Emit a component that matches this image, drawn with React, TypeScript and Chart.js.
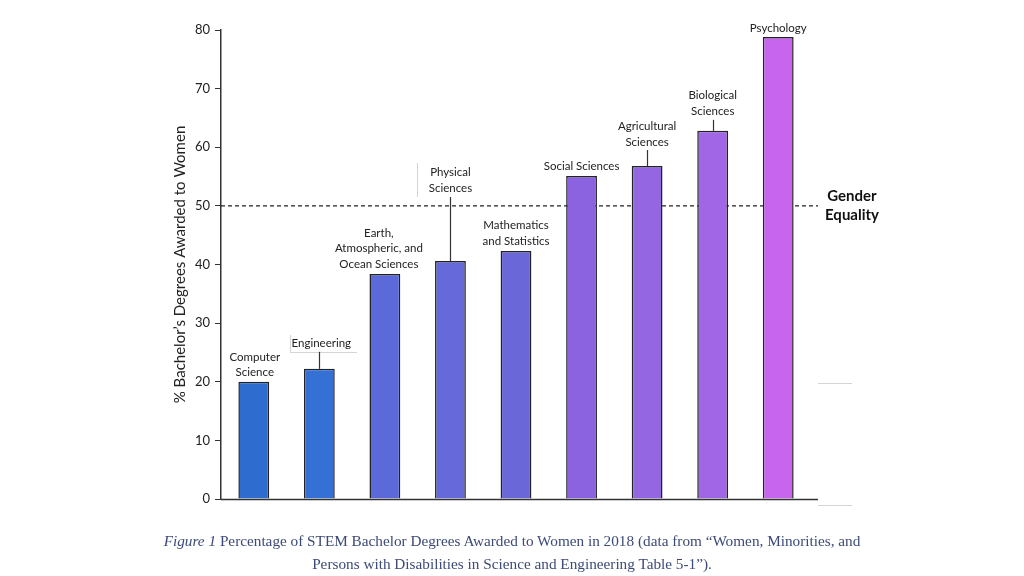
import React, { useEffect, useRef } from "react";
import { Chart, registerables } from "chart.js";

Chart.register(...registerables);

const categories = [
  "Computer Science",
  "Engineering",
  "Earth, Atmospheric, and Ocean Sciences",
  "Physical Sciences",
  "Mathematics and Statistics",
  "Social Sciences",
  "Agricultural Sciences",
  "Biological Sciences",
  "Psychology",
];
const values = [20.0, 22.2, 38.4, 40.6, 42.3, 55.1, 56.8, 62.8, 78.8];
const barColors = [
  "#2f6ccf",
  "#3570d5",
  "#5b6ad8",
  "#6669da",
  "#6a68d9",
  "#8b63e0",
  "#9466e2",
  "#a066e6",
  "#c765ee",
];
const labelLines = [
  ["Computer", "Science"],
  ["Engineering"],
  ["Earth,", "Atmospheric, and", "Ocean Sciences"],
  ["Physical", "Sciences"],
  ["Mathematics", "and Statistics"],
  ["Social Sciences"],
  ["Agricultural", "Sciences"],
  ["Biological", "Sciences"],
  ["Psychology"],
];
const yTicks = [0, 10, 20, 30, 40, 50, 60, 70, 80];
const equalityValue = 50;
const yTitle = "% Bachelor\u2019s Degrees Awarded to Women";
const equalityLabel = ["Gender", "Equality"];

// label layout (pixels): gap from bar top to last line, leader length, x shift
const labelGap = [9, 26, 10, 73, 10, 10, 24, 20, 9];
const leaderLen = [0, 17, 0, 64, 0, 0, 16, 11, 0];
const labelDx = [1, 2, -6, 0, 0, 0, 0, 0, 0];

const annotPlugin = {
  id: "annot",
  beforeDatasetsDraw(chart: any) {
    const { ctx, chartArea, scales } = chart;
    const y = scales.y.getPixelForValue(equalityValue);
    ctx.save();
    ctx.strokeStyle = "#222";
    ctx.lineWidth = 1.2;
    ctx.setLineDash([4, 3]);
    ctx.beginPath();
    ctx.moveTo(chartArea.left, y);
    ctx.lineTo(818, y);
    ctx.stroke();
    ctx.restore();
  },
  afterDatasetsDraw(chart: any) {
    const { ctx, chartArea, scales } = chart;
    const xs = scales.x;
    const ys = scales.y;
    ctx.save();
    // baseline axis
    ctx.strokeStyle = "#333";
    ctx.lineWidth = 1.5;
    ctx.beginPath();
    ctx.moveTo(chartArea.left, chartArea.bottom + 0.5);
    ctx.lineTo(818, chartArea.bottom + 0.5);
    ctx.stroke();

    // faint decorative lines
    ctx.strokeStyle = "#d4d4d4";
    ctx.lineWidth = 1;
    ctx.beginPath();
    ctx.moveTo(818, 383.5);
    ctx.lineTo(852, 383.5);
    ctx.moveTo(818, 505.5);
    ctx.lineTo(852, 505.5);
    ctx.moveTo(417.5, 163);
    ctx.lineTo(417.5, 197);
    ctx.moveTo(290.5, 335);
    ctx.lineTo(290.5, 352);
    ctx.moveTo(290, 352.5);
    ctx.lineTo(357, 352.5);
    ctx.stroke();

    ctx.font = "11.5px Lato, 'Open Sans', sans-serif";
    ctx.fillStyle = "#222";
    ctx.textAlign = "center";
    ctx.textBaseline = "middle";
    const lh = 15.5;
    values.forEach((v, i) => {
      const x = xs.getPixelForValue(i);
      const top = ys.getPixelForValue(v);
      const lines = labelLines[i];
      const lastY = top - labelGap[i];
      lines.forEach((ln, j) => {
        const yy = lastY - (lines.length - 1 - j) * lh;
        ctx.fillText(ln, x + labelDx[i], yy);
      });
      if (leaderLen[i] > 0) {
        ctx.strokeStyle = "#333";
        ctx.lineWidth = 1.2;
        ctx.beginPath();
        ctx.moveTo(Math.round(x) + 0.5, top - leaderLen[i]);
        ctx.lineTo(Math.round(x) + 0.5, top);
        ctx.stroke();
      }
    });

    // gender equality label
    const ey = ys.getPixelForValue(equalityValue);
    ctx.font = "bold 15px Lato, 'Open Sans', sans-serif";
    ctx.fillStyle = "#111";
    ctx.fillText(equalityLabel[0], 852, ey - 10);
    ctx.fillText(equalityLabel[1], 852, ey + 9);
    ctx.restore();
  },
};

export default function App() {
  const ref = useRef<HTMLCanvasElement>(null);
  useEffect(() => {
    if (!ref.current) return;
    const chart = new Chart(ref.current, {
      type: "bar",
      data: {
        labels: categories,
        datasets: [
          {
            data: values,
            backgroundColor: barColors,
            borderColor: "#222",
            borderWidth: 1.5,
            barPercentage: 0.47,
            categoryPercentage: 1,
          },
        ],
      },
      options: {
        animation: false,
        responsive: false,
        maintainAspectRatio: false,
        layout: { padding: { left: 160, right: 213, top: 30, bottom: 77 } },
        plugins: {
          legend: { display: false },
          tooltip: { enabled: false },
          title: { display: false },
        },
        scales: {
          x: { display: false },
          y: {
            min: 0,
            max: 80,
            afterFit: (s: any) => {
              s.width = 61;
            },
            afterBuildTicks: (s: any) => {
              s.ticks = yTicks.map((v) => ({ value: v }));
            },
            ticks: {
              color: "#222",
              font: { family: "Lato, 'Open Sans', sans-serif", size: 13 },
              padding: 5,
            },
            grid: {
              drawOnChartArea: false,
              drawTicks: true,
              tickLength: 6,
              color: "#333",
            },
            border: { display: true, color: "#333", width: 1.5 },
            title: {
              display: true,
              text: yTitle,
              color: "#222",
              font: { family: "Lato, 'Open Sans', sans-serif", size: 15 },
              padding: { top: 11, bottom: 0 },
            },
          },
        },
      },
      plugins: [annotPlugin],
    });
    return () => chart.destroy();
  }, []);

  return (
    <div style={{ position: "fixed", left: 0, top: 0, width: 1024, height: 576, background: "#fff" }}>
      <canvas ref={ref} width={1024} height={576} style={{ position: "absolute", left: 0, top: 0 }} />
      <div
        style={{
          position: "absolute",
          left: 0,
          width: 1024,
          top: 529,
          textAlign: "center",
          fontFamily: "'Liberation Serif', 'DejaVu Serif', serif",
          fontSize: 15.25,
          lineHeight: "23px",
          color: "#3c4a78",
        }}
      >
        <div style={{ paddingLeft: 0 }}>
          <i>Figure 1</i> Percentage of STEM Bachelor Degrees Awarded to Women in 2018 (data from “Women, Minorities, and
        </div>
        <div>Persons with Disabilities in Science and Engineering Table 5-1”).</div>
      </div>
    </div>
  );
}
